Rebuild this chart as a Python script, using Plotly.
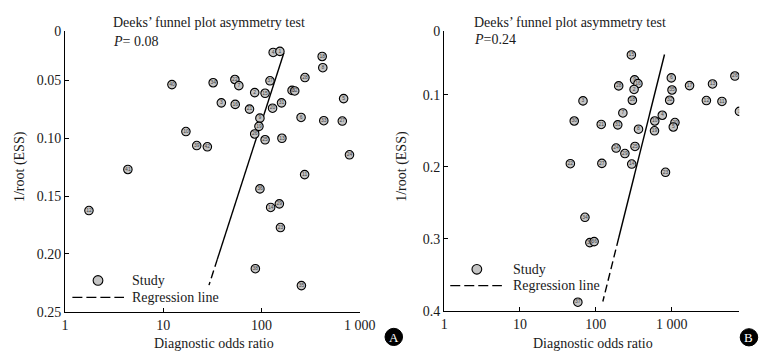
import numpy as np
import plotly.graph_objects as go

W, H = 767, 351

# ---------------- Panel A data ----------------
a_labels = ["4", "1", "18", "8", "28", "22", "7", "37", "34", "40", "2", "15", "30", "32", "5",
            "3", "16", "21", "31", "20", "6", "33", "27", "9", "19", "26", "25", "13", "10",
            "39", "42", "24", "11", "41", "12", "36", "14", "29", "23", "38", "35"]
a_dor = [131.5, 154, 415, 421, 277, 53.6, 58.8, 122, 32.2, 12.25, 85.3, 108.8, 204.8, 218, 686,
         39, 54, 75.5, 160, 129.7, 253, 431, 665, 96.4, 94.2, 85.3, 108.8, 161.5, 17.0,
         21.9, 28.1, 787, 275, 4.36, 1.75, 96.4, 124, 152, 156, 86.6, 255]
a_ess = [0.0258, 0.0249, 0.0293, 0.0390, 0.0475, 0.0492, 0.0545, 0.0503, 0.0520, 0.0536, 0.0605,
         0.0611, 0.0586, 0.0591, 0.0657, 0.0694, 0.0707, 0.0748, 0.0694, 0.0740, 0.0820, 0.0848,
         0.0851, 0.0826, 0.0897, 0.0963, 0.1013, 0.1000, 0.0942, 0.1063, 0.1074, 0.1143, 0.1314,
         0.1270, 0.1625, 0.1438, 0.1598, 0.1567, 0.1772, 0.2128, 0.2274]
a_reg = {"intercept": 2.327, "slope": -3.796, "y_top": 0.026, "y_split": 0.2045, "y_bottom": 0.227}
a_p = "0.08"
a_ytop = 0.0073
a_yticks = [a_ytop, 0.05, 0.10, 0.15, 0.20, 0.25]
a_yticktext = ["0", "0.05", "0.10", "0.15", "0.20", "0.25"]

# ---------------- Panel B data ----------------
b_labels = ["15", "26", "6", "17", "13", "28", "9", "16", "2", "35", "32", "18", "12", "11", "1",
            "7", "4", "10", "20", "5", "19", "21", "31", "8", "24", "29", "25", "14", "27", "23",
            "3", "30", "22", "34", "33", "36", "37"]
b_dor = [294, 6808, 988, 1718, 3451, 200, 324, 359, 319, 1009, 940, 303, 2864, 4594, 7818,
         227, 751, 598, 1103, 1049, 593, 117.7, 194.5, 365, 185, 241.5, 328, 297, 120, 828,
         67.7, 51.9, 46.1, 71.8, 83.3, 94.9, 57.9]
b_ess = [0.0448, 0.0740, 0.0766, 0.0873, 0.0850, 0.0877, 0.0793, 0.0846, 0.0926, 0.0934, 0.1076,
         0.1076, 0.1080, 0.1093, 0.1231, 0.1252, 0.1284, 0.1364, 0.1385, 0.1447, 0.1500, 0.1412,
         0.1417, 0.1478, 0.1739, 0.1815, 0.1717, 0.1961, 0.1952, 0.2075, 0.1085, 0.1364, 0.1956,
         0.2699, 0.3050, 0.3036, 0.3877]
b_reg = {"intercept": 3.010, "slope": -2.374, "y_top": 0.0442, "y_split": 0.2987, "y_bottom": 0.3867}
b_p = "0.24"
b_ytop = 0.0116
b_yticks = [b_ytop, 0.1, 0.2, 0.3, 0.4]
b_yticktext = ["0", "0.1", "0.2", "0.3", "0.4"]

x_tickvals = [1, 10, 100, 1000]
x_ticktext = ["1", "10", "100", "1 000"]

FONT = "Liberation Serif"
INK = "#1a1a1a"


def PX(x):
    return x / W


def PY(y):
    return 1 - y / H


fig = go.Figure()


def add_panel(xa, ya, labels, dor, ess, reg):
    yy_solid = np.linspace(reg["y_top"], reg["y_split"], 20)
    yy_dash = np.linspace(reg["y_split"], reg["y_bottom"], 20)
    for yy, dash in ((yy_solid, "solid"), (yy_dash, "8px,4px")):
        fig.add_trace(go.Scatter(
            x=10 ** (reg["intercept"] + reg["slope"] * yy), y=yy, mode="lines",
            line=dict(color="black", width=1.4, dash=dash),
            xaxis=xa, yaxis=ya, showlegend=False, hoverinfo="skip"))
    fig.add_trace(go.Scatter(
        x=dor, y=ess, mode="markers+text", text=labels, textposition="middle center",
        textfont=dict(size=5, color="#444444", family="Arial"),
        marker=dict(size=8.5, color="#c4c4c4", line=dict(color="black", width=1.1)),
        xaxis=xa, yaxis=ya, showlegend=False))


add_panel("x", "y", a_labels, a_dor, a_ess, a_reg)
add_panel("x2", "y2", b_labels, b_dor, b_ess, b_reg)

axis_common = dict(showline=True, linecolor="black", linewidth=1.3, ticks="inside", ticklen=4,
                   tickwidth=1.2, tickcolor="black", showgrid=False, zeroline=False,
                   tickfont=dict(family=FONT, size=14, color=INK))

fig.update_layout(
    width=W, height=H, margin=dict(l=0, r=0, t=0, b=0),
    paper_bgcolor="white", plot_bgcolor="white",
    font=dict(family=FONT, size=14, color=INK),
    xaxis=dict(domain=[PX(54.5), PX(357)], type="log", range=[0, 3], anchor="y",
               tickvals=x_tickvals, ticktext=x_ticktext, **axis_common),
    yaxis=dict(domain=[PY(310), PY(16.7)], range=[0.25, a_ytop - 0.00005], anchor="x",
               tickvals=a_yticks, ticktext=a_yticktext, **axis_common),
    xaxis2=dict(domain=[PX(443.7), PX(746.7)], type="log", range=[0, 3.89], anchor="y2",
                tickvals=x_tickvals, ticktext=x_ticktext, **axis_common),
    yaxis2=dict(domain=[PY(309.3), PY(16.7)], range=[0.4, b_ytop - 0.00005], anchor="x2",
                tickvals=b_yticks, ticktext=b_yticktext, **axis_common),
)

ann = []
shapes = []


def txt(x, y, s, size=14, xanchor="left", angle=0, color=INK, family=FONT):
    ann.append(dict(x=PX(x), y=PY(y), xref="paper", yref="paper", text=s, showarrow=False,
                    xanchor=xanchor, yanchor="middle", textangle=angle,
                    font=dict(family=family, size=size, color=color)))


# Panel A texts
txt(102, 8, "Deeks\u2019 funnel plot asymmetry test")
txt(102, 28, "<i>P</i>= " + a_p)
txt(207, 343, "Diagnostic odds ratio", xanchor="center")
txt(8, 158, "1/root (ESS)", xanchor="center", angle=-90)
# Panel B texts
txt(472, 8, "Deeks\u2019 funnel plot asymmetry test")
txt(472, 26, "<i>P</i>=" + b_p)
txt(597, 343, "Diagnostic odds ratio", xanchor="center")
txt(401, 158, "1/root (ESS)", xanchor="center", angle=-90)

# legends (manual)
for (cx, cy, lx0, lx1, ly, tx) in ((88.3, 277.3, 62, 115, 295, 121),
                                   (477.3, 265.7, 450, 503, 282.7, 512)):
    r = 5
    shapes.append(dict(type="circle", xref="paper", yref="paper",
                       x0=PX(cx - r), x1=PX(cx + r), y0=PY(cy + r), y1=PY(cy - r),
                       fillcolor="#c4c4c4", line=dict(color="black", width=1.1)))
    shapes.append(dict(type="line", xref="paper", yref="paper",
                       x0=PX(lx0), x1=PX(lx1), y0=PY(ly), y1=PY(ly),
                       line=dict(color="black", width=1.4, dash="10px,4px")))
    txt(tx, cy, "Study")
    txt(tx, ly, "Regression line")

# panel badges
for (cx, cy, letter) in ((392, 336.3, "A"), (756.7, 336.7, "B")):
    r = 9
    shapes.append(dict(type="circle", xref="paper", yref="paper",
                       x0=PX(cx - r), x1=PX(cx + r), y0=PY(cy + r), y1=PY(cy - r),
                       fillcolor="black", line=dict(color="black", width=1)))
    txt(cx, cy + 0.5, letter, size=13, xanchor="center", color="white")

fig.update_layout(annotations=ann, shapes=shapes)
fig.write_html("out.html")
